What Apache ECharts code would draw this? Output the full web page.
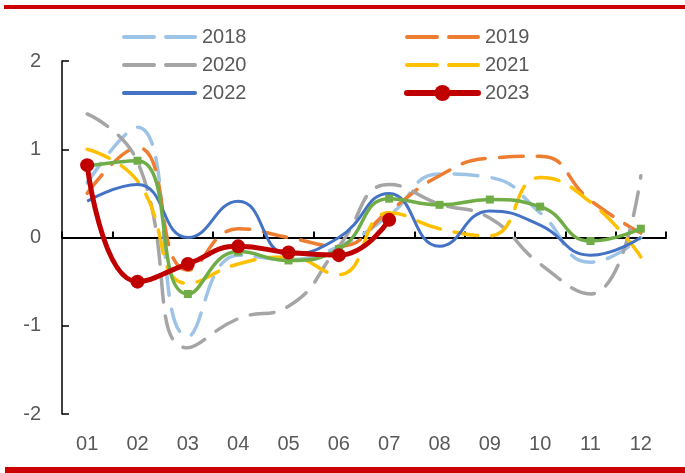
<!DOCTYPE html>
<html>
<head>
<meta charset="utf-8">
<script src="https://cdn.jsdelivr.net/npm/echarts@6/dist/echarts.min.js"></script>
<style>
  html, body { margin: 0; padding: 0; background: #fff; }
  #main { width: 685px; height: 473px; }
</style>
</head>
<body>
<div id="main"></div>
<script>
var months = ['01', '02', '03', '04', '05', '06', '07', '08', '09', '10', '11', '12'];
var yTicks = [-2, -1, 0, 1, 2];

var s2018 = [0.62, 1.25, -1.12, -0.2, -0.25, -0.1, 0.25, 0.72, 0.68, 0.28, -0.28, 0.0];
var s2019 = [0.5, 1.02, -0.37, 0.1, 0.0, -0.1, 0.3, 0.7, 0.9, 0.92, 0.42, 0.05];
var s2020 = [1.4, 0.86, -1.25, -0.92, -0.78, -0.1, 0.6, 0.38, 0.22, -0.3, -0.64, 0.7];
var s2021 = [1.0, 0.64, -0.52, -0.3, -0.22, -0.42, 0.28, 0.1, 0.02, 0.68, 0.4, -0.22];
var s2022 = [0.41, 0.6, 0.0, 0.41, -0.19, 0.0, 0.5, -0.1, 0.3, 0.14, -0.2, 0.0];
var s2023 = [0.82, -0.5, -0.3, -0.1, -0.17, -0.2, 0.2];
var sGreen = [0.81, 0.87, -0.64, -0.16, -0.26, -0.13, 0.44, 0.37, 0.43, 0.35, -0.04, 0.1];

var txt = '#595959';
var font = 'Liberation Sans';

var myChart = echarts.init(document.getElementById('main'));

function dashed(name, data, color) {
    return {
        name: name,
        type: 'line',
        data: data,
        smooth: 0.5,
        symbol: 'none',
        lineStyle: { color: color, width: 3.5, type: [24, 14], cap: 'round' },
        itemStyle: { color: color },
        z: 2
    };
}

// legend entries: line only, no symbol in the middle
function dashKey(name) {
    return { name: name, itemStyle: { opacity: 0 }, lineStyle: { width: 4, type: [30, 12], cap: 'round' } };
}
function solidKey(name) {
    return { name: name, itemStyle: { opacity: 0 }, lineStyle: { width: 4, type: 'solid', cap: 'round' } };
}

var legendText = { color: txt, fontSize: 20, fontFamily: font, lineHeight: 20, padding: [0, 0, 0, 2] };

var option = {
    animation: false,
    grid: { left: 62, right: 19, top: 61, bottom: 59 },
    legend: [
        {
            data: [dashKey('2018'), dashKey('2020'), solidKey('2022')],
            orient: 'vertical',
            left: 117, top: 22,
            itemWidth: 71, itemHeight: 20, itemGap: 8,
            textStyle: legendText
        },
        {
            data: [dashKey('2019'), dashKey('2021'),
                { name: '2023', lineStyle: { width: 6, cap: 'round' } }],
            orient: 'vertical',
            left: 399, top: 22,
            itemWidth: 71, itemHeight: 20, itemGap: 8,
            textStyle: legendText
        }
    ],
    xAxis: [
        {
            type: 'category',
            data: months,
            position: 'top',
            axisLine: { onZero: true, lineStyle: { color: '#000', width: 2 } },
            axisTick: { show: true, inside: false, length: 6, lineStyle: { color: '#000', width: 2 } },
            axisLabel: { show: false },
            splitLine: { show: false }
        },
        {
            type: 'category',
            data: months,
            position: 'bottom',
            axisLine: { show: false, onZero: false },
            axisTick: { show: false },
            axisLabel: { color: txt, fontSize: 20, fontFamily: font, margin: 20 },
            splitLine: { show: false }
        }
    ],
    yAxis: {
        type: 'value',
        min: -2, max: 2, interval: 1,
        axisLine: { show: true, onZero: false, lineStyle: { color: '#000', width: 1.5 } },
        axisTick: { show: true, inside: true, length: 7, lineStyle: { color: '#000', width: 1.5 } },
        axisLabel: {
            color: txt, fontSize: 20, fontFamily: font, margin: 21,
            formatter: function (v) { return yTicks.indexOf(v) >= 0 ? String(v) : ''; }
        },
        splitLine: { show: false }
    },
    graphic: [
        { type: 'rect', shape: { x: 4, y: 5, width: 681, height: 4 }, style: { fill: '#CC0000' } },
        { type: 'rect', shape: { x: 5, y: 467, width: 680, height: 6 }, style: { fill: '#CC0000' } }
    ],
    series: [
        dashed('2018', s2018, '#9DC3E6'),
        dashed('2019', s2019, '#ED7D31'),
        dashed('2020', s2020, '#A5A5A5'),
        dashed('2021', s2021, '#FFC000'),
        {
            name: '2022',
            type: 'line',
            data: s2022,
            smooth: 0.5,
            symbol: 'none',
            lineStyle: { color: '#4472C4', width: 3 },
            itemStyle: { color: '#4472C4' },
            z: 3
        },
        {
            name: '均值',
            type: 'line',
            data: sGreen,
            smooth: 0.5,
            symbol: 'rect',
            symbolSize: 8,
            lineStyle: { color: '#70AD47', width: 3.5 },
            itemStyle: { color: '#70AD47' },
            z: 4
        },
        {
            name: '2023',
            type: 'line',
            data: s2023,
            smooth: 0.5,
            symbol: 'circle',
            symbolSize: 14,
            lineStyle: { color: '#C00000', width: 5 },
            itemStyle: { color: '#C00000' },
            z: 5
        }
    ]
};

myChart.setOption(option);
window.onresize = function () {
    myChart.resize();
};
</script>
</body>
</html>
